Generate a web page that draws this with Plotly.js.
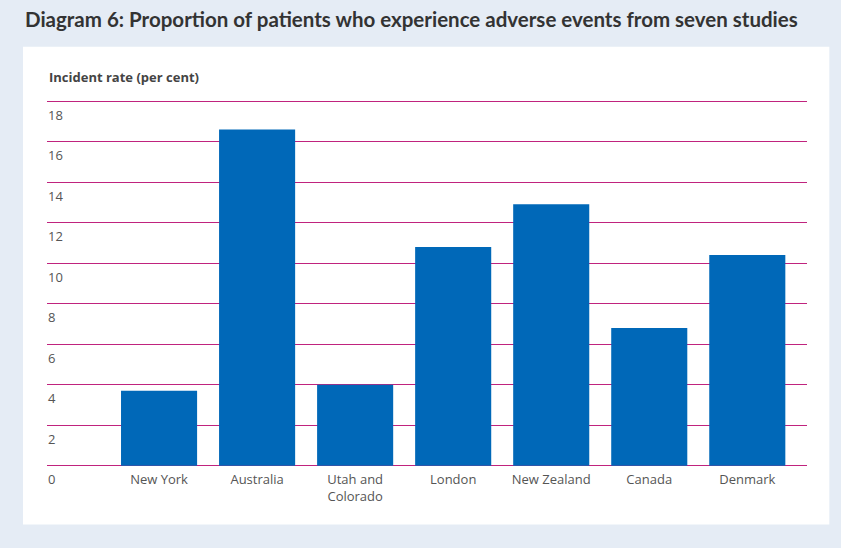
<!DOCTYPE html>
<html>
<head>
<meta charset="utf-8">
<script src="https://cdn.plot.ly/plotly-3.0.1.min.js"></script>
<style>html,body{margin:0;padding:0;background:#e5ecf5;}#chart{width:841px;height:548px;}</style>
</head>
<body>
<div id="chart"></div>
<script>
const categories = ["New York", "Australia", "Utah and Colorado", "London", "New Zealand", "Canada", "Denmark"];
const tickLabels = ["New York", "Australia", "Utah and<br>Colorado", "London", "New Zealand", "Canada", "Denmark"];
const incidentRate = [3.7, 16.6, 4.0, 10.8, 12.9, 6.8, 10.4];
const yTicks = [0, 2, 4, 6, 8, 10, 12, 14, 16, 18];

const W = 841, H = 548;
const yMax = 18.1, yMin = -1.2;
const unit = 364 / 18;           // pixels per unit
const L = 47, R = 806.7, Y0 = 465.3; // pixel of value 0
const T = Y0 - yMax * unit;
const B = Y0 - yMin * unit;
const pw = R - L, ph = B - T;
function px2x(x){ return (x - L) / pw; }
function px2y(y){ return (B - y) / ph; }

const trace = {
  type: 'bar',
  x: categories,
  y: incidentRate,
  marker: {color: '#0068b8'},
  hoverinfo: 'x+y'
};

const layout = {
  width: W, height: H,
  paper_bgcolor: '#e5ecf5',
  plot_bgcolor: 'rgba(0,0,0,0)',
  margin: {l: L, r: W - R, t: T, b: H - B},
  showlegend: false,
  bargap: 0.224,
  font: {family: 'Open Sans, sans-serif', color: '#555555', size: 13},
  title: {
    text: 'Diagram 6: Proportion of patients who experience adverse events from seven studies',
    font: {family: 'Lato, sans-serif', size: 20.5, weight: 700, color: '#333333'},
    xref: 'container', yref: 'container',
    x: 25 / W, xanchor: 'left',
    y: 1 - 20 / H, yanchor: 'middle'
  },
  xaxis: {
    type: 'category',
    categoryorder: 'array',
    categoryarray: categories,
    tickvals: categories,
    ticktext: tickLabels,
    range: [-1.143, 6.609],
    anchor: 'free',
    position: px2y(Y0),
    showgrid: false,
    zeroline: false,
    showline: false,
    ticks: '',
    tickfont: {family: 'Open Sans, sans-serif', size: 13, color: '#555555'},
    ticklabelstandoff: 4,
    fixedrange: true
  },
  yaxis: {
    range: [yMin, yMax],
    tickvals: yTicks,
    showgrid: true,
    gridcolor: '#c0237e',
    gridwidth: 1,
    zeroline: true,
    zerolinecolor: '#c0237e',
    zerolinewidth: 1,
    showline: false,
    ticks: '',
    ticklabelposition: 'inside',
    ticklabelshift: 14,
    ticklabelstandoff: -2,
    tickfont: {family: 'Open Sans, sans-serif', size: 13, color: '#555555'},
    fixedrange: true
  },
  shapes: [{
    type: 'rect', xref: 'paper', yref: 'paper', layer: 'below',
    x0: px2x(23), x1: px2x(829), y0: px2y(524), y1: px2y(47),
    fillcolor: '#ffffff', line: {width: 0}
  }],
  annotations: [{
    text: '<b>Incident rate (per cent)</b>',
    xref: 'paper', yref: 'paper',
    x: px2x(47), y: px2y(77),
    xanchor: 'left', yanchor: 'middle',
    showarrow: false,
    font: {family: 'Open Sans, sans-serif', size: 13, color: '#444444'}
  }]
};

Plotly.newPlot('chart', [trace], layout, {displayModeBar: false, staticPlot: true});
</script>
</body>
</html>
